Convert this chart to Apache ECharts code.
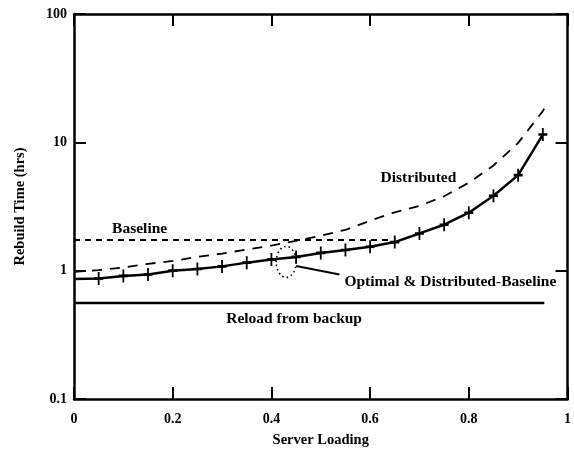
<!DOCTYPE html>
<html>
<head>
<meta charset="utf-8">
<script src="https://cdn.jsdelivr.net/npm/echarts@6/dist/echarts.min.js"></script>
<style>html,body{margin:0;padding:0;background:#fff}#c{width:574px;height:453px}</style>
</head>
<body>
<div id="c"></div>
<script>
// ---- data ----
var loading = [0, 0.05, 0.1, 0.15, 0.2, 0.25, 0.3, 0.35, 0.4, 0.45, 0.5, 0.55, 0.6, 0.65, 0.7, 0.75, 0.8, 0.85, 0.9, 0.95];
var optimal = [0.86, 0.87, 0.91, 0.935, 1.0, 1.03, 1.08, 1.155, 1.22, 1.28, 1.375, 1.45, 1.535, 1.67, 1.95, 2.28, 2.83, 3.83, 5.55, 11.5];
var distributedX = [0, 0.05, 0.1, 0.15, 0.2, 0.25, 0.3, 0.35, 0.4, 0.45, 0.5, 0.55, 0.6, 0.65, 0.7, 0.75, 0.8, 0.85, 0.9, 0.95, 0.955];
var distributed = [0.98, 1.01, 1.06, 1.13, 1.19, 1.28, 1.36, 1.46, 1.57, 1.71, 1.87, 2.08, 2.45, 2.85, 3.2, 3.8, 4.85, 6.6, 9.9, 17.5, 19.0];
var baselineX = [0, 0.64];
var baseline = [1.73, 1.73];
var reloadX = [0, 0.953];
var reload = [0.56, 0.56];
var xTicks = [0, 0.2, 0.4, 0.6, 0.8, 1];
var yTicks = [0.1, 1, 10, 100];
var xTitle = 'Server Loading';
var yTitle = 'Rebuild Time (hrs)';
// annotation labels [text, x, y, align]
var labels = [
  ['Baseline', 0.133, 2.12, 'center'],
  ['Distributed', 0.698, 5.3, 'center'],
  ['Reload from backup', 0.446, 0.42, 'center'],
  ['Optimal & Distributed-Baseline', 0.548, 0.81, 'left']
];
// ellipse marking the coinciding region
var ellipseCenter = [0.43, 1.17];

function pairs(xs, ys) { return xs.map(function (x, i) { return [x, ys[i]]; }); }

var FONT = '"Liberation Serif", "Times New Roman", serif';
var plus = 'path://M4,0 H6 V4 H10 V6 H6 V10 H4 V6 H0 V4 H4 Z';

var optData = pairs(loading, optimal).map(function (p, i) {
  return i === 0 ? { value: p, symbol: 'none' } : { value: p };
});

var chart = echarts.init(document.getElementById('c'), null, { renderer: 'canvas' });

function axisCommon() {
  return {
    axisLine: { show: true, onZero: false, lineStyle: { color: '#000', width: 2.5 } },
    axisTick: { show: true, inside: true, length: 12, lineStyle: { color: '#000', width: 2 } },
    splitLine: { show: false }
  };
}

chart.setOption({
  animation: false,
  backgroundColor: '#fff',
  grid: { left: 74, right: 4, top: 14, bottom: 53 },
  xAxis: [
    Object.assign({
      type: 'value', min: 0, max: 1, interval: 0.2, position: 'bottom',
      name: xTitle, nameLocation: 'middle', nameGap: 34,
      nameTextStyle: { fontFamily: FONT, fontWeight: 'bold', fontSize: 14.5, color: '#000' },
      axisLabel: { fontFamily: FONT, fontWeight: 'bold', fontSize: 14, color: '#000', margin: 13,
        formatter: function (v) { return xTicks.indexOf(+v.toFixed(1)) >= 0 ? String(+v.toFixed(1)) : ''; } }
    }, axisCommon()),
    Object.assign({
      type: 'value', min: 0, max: 1, interval: 0.2, position: 'top',
      axisLabel: { show: false }
    }, axisCommon())
  ],
  yAxis: [
    Object.assign({
      type: 'log', logBase: 10, min: 0.1, max: 100, position: 'left',
      name: yTitle, nameLocation: 'middle', nameGap: 46, nameRotate: 90,
      nameTextStyle: { fontFamily: FONT, fontWeight: 'bold', fontSize: 14.5, color: '#000' },
      axisLabel: { fontFamily: FONT, fontWeight: 'bold', fontSize: 14, color: '#000', margin: 7,
        formatter: function (v) { return yTicks.indexOf(+v) >= 0 ? String(v) : ''; } }
    }, axisCommon()),
    Object.assign({
      type: 'log', logBase: 10, min: 0.1, max: 100, position: 'right',
      axisLabel: { show: false }
    }, axisCommon())
  ],
  series: [
    {
      name: 'Reload from backup', type: 'line', symbol: 'none',
      data: pairs(reloadX, reload),
      lineStyle: { color: '#000', width: 2.5 }
    },
    {
      name: 'Baseline', type: 'line', symbol: 'none',
      data: pairs(baselineX, baseline),
      lineStyle: { color: '#000', width: 2, type: [6, 5] }
    },
    {
      name: 'Distributed', type: 'line', symbol: 'none',
      data: pairs(distributedX, distributed),
      lineStyle: { color: '#000', width: 1.8, type: [10, 8] }
    },
    {
      name: 'Optimal', type: 'line', symbol: plus, symbolSize: [9, 13],
      data: optData,
      lineStyle: { color: '#000', width: 2.5 },
      itemStyle: { color: '#000', borderWidth: 0 }
    }
  ]
});

// annotations placed through the chart's own coordinate conversion
var g = [];
labels.forEach(function (l) {
  var p = chart.convertToPixel({ gridIndex: 0 }, [l[1], l[2]]);
  g.push({
    type: 'text', x: p[0], y: p[1],
    style: { text: l[0], font: 'bold 15.5px ' + FONT, fill: '#000', align: l[3], verticalAlign: 'middle' }
  });
});
var c = chart.convertToPixel({ gridIndex: 0 }, ellipseCenter);
g.push({
  type: 'ellipse', shape: { cx: c[0], cy: c[1], rx: 10, ry: 15.5 },
  style: { fill: 'none', stroke: '#000', lineWidth: 1.6, lineDash: [1.5, 3] }
});
var lblP = chart.convertToPixel({ gridIndex: 0 }, [labels[3][1], labels[3][2]]);
g.push({
  type: 'line', shape: { x1: c[0] + 10, y1: c[1] + 4, x2: lblP[0] - 5, y2: lblP[1] - 8 },
  style: { stroke: '#000', lineWidth: 2 }
});
chart.setOption({ graphic: g });
</script>
</body>
</html>
